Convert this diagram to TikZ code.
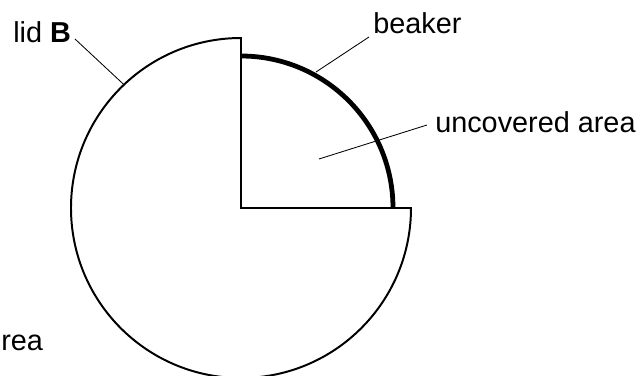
\documentclass[tikz,border=0pt]{standalone}
\usepackage{fontspec}
\setmainfont{Liberation Sans}
\usetikzlibrary{positioning,calc}

\begin{document}
\begin{tikzpicture}[x=0.025cm, y=0.025cm,
    lbl/.style={font=\fontsize{20.5}{24}\selectfont, inner sep=0pt, anchor=base west},
    leader/.style={line width=0.6pt}]
  \useasboundingbox (-241,-168) rectangle (399,208);

  % lid with a quarter cut away
  \draw[line width=1.4pt, fill=white] (0,0) coordinate (O) -- (90:170) arc (90:360:170) -- cycle;
  % rim of the beaker under it
  \draw[line width=3.4pt] (90:152) arc (90:0:152);

  \node (lid) [lbl] at (-228,166) {lid \textbf{B}};
  \node (beaker) [lbl] at (132,175) {beaker};
  \node (uncov) [lbl] at (194,76) {uncovered area};
  \node (rea) [lbl] at (-240,-142) {rea};

  \coordinate (lidA) at (-166,169);
  \coordinate (lidB) at (133.5:170);
  \coordinate (bkA) at (128,171);
  \coordinate (bkB) at (75,136);
  \coordinate (ucA) at (186,83);
  \coordinate (ucB) at (78,49);

  \draw[leader] (lidA) -- (lidB);
  \draw[leader] (bkA) -- (bkB);
  \draw[leader] (ucA) -- (ucB);
\end{tikzpicture}
\end{document}
